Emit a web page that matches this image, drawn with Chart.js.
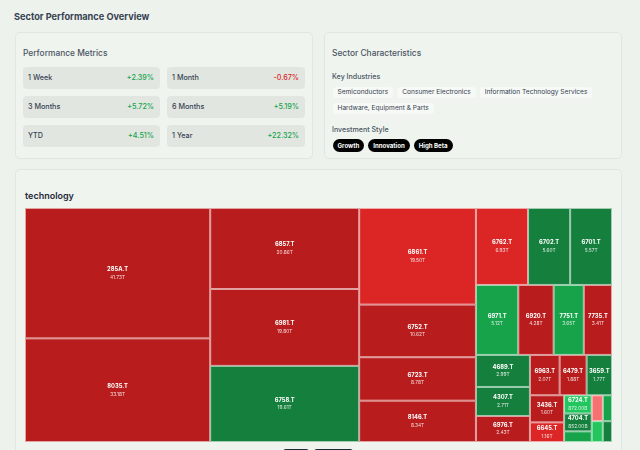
<!DOCTYPE html>
<html>
<head>
<meta charset="utf-8">
<script src="https://cdn.jsdelivr.net/npm/chart.js@4.4.1/dist/chart.umd.min.js"></script>
<style>
  body {
    margin: 0;
    width: 640px;
    height: 450px;
    overflow: hidden;
    position: relative;
    background: #edf2ed;
    font-family: Inter, "Noto Sans", sans-serif;
    color: #374151;
  }
  h1 {
    position: absolute;
    left: 14px;
    top: 10.5px;
    margin: 0;
    font-size: 9.2px;
    line-height: 12px;
    font-weight: 700;
    color: #374151;
  }
  .card {
    position: absolute;
    box-sizing: border-box;
    background: #eff4ef;
    border: 1px solid #e0e7e0;
    border-radius: 5px;
  }
  .card h2 {
    position: absolute;
    margin: 0;
    font-size: 8.4px;
    line-height: 10px;
    font-weight: 500;
    color: #4b5563;
  }
  #perf { left: 15px; top: 32px; width: 298px; height: 127px; }
  #chars { left: 324px; top: 32px; width: 298px; height: 127px; }
  #tree { left: 15px; top: 169px; width: 607px; height: 320px; }

  #metrics {
    position: absolute;
    left: 7px;
    top: 34px;
    width: 282px;
    display: grid;
    grid-template-columns: 137px 138px;
    column-gap: 7px;
    row-gap: 7.5px;
  }
  .metric {
    height: 21.5px;
    box-sizing: border-box;
    padding: 0 6px 0 5px;
    background: #e1e6e1;
    border-radius: 4px;
    display: flex;
    align-items: center;
    justify-content: space-between;
    font-size: 7.2px;
    font-weight: 500;
  }
  .metric .up { color: #16a34a; }
  .metric .down { color: #dc2626; }

  .sub {
    position: absolute;
    left: 7px;
    margin: 0;
    font-size: 7.1px;
    line-height: 9px;
    font-weight: 500;
    color: #4b5563;
  }
  .tags {
    position: absolute;
    left: 7.5px;
    display: flex;
    flex-wrap: wrap;
    gap: 4.5px 4px;
  }
  .chip {
    height: 11.5px;
    line-height: 11.5px;
    padding: 0 5px;
    background: #f6f9f6;
    border-radius: 3px;
    font-size: 6.6px;
    color: #374151;
  }
  .pill {
    height: 13px;
    line-height: 13px;
    padding: 0 5px;
    background: #000;
    border-radius: 7px;
    font-size: 6.1px;
    font-weight: 700;
    color: #fff;
  }
  #chartBox {
    position: absolute;
    left: 9px;
    top: 38px;
    width: 587px;
    height: 234px;
  }
  .btn {
    position: absolute;
    top: 279px;
    height: 20px;
    background: #1f2937;
    border-radius: 3px;
  }
</style>
</head>
<body>
<h1>Sector Performance Overview</h1>

<div class="card" id="perf">
  <h2 style="left:7px;top:14.7px">Performance Metrics</h2>
  <div id="metrics"></div>
</div>

<div class="card" id="chars">
  <h2 style="left:7px;top:15.3px">Sector Characteristics</h2>
  <p class="sub" style="top:38.5px">Key Industries</p>
  <div class="tags" id="industries" style="top:53.5px;width:272px"></div>
  <p class="sub" style="top:91.5px">Investment Style</p>
  <div class="tags" id="styles" style="top:106px"></div>
</div>

<div class="card" id="tree">
  <h2 style="left:9px;top:20.2px;font-size:9px;line-height:11px;color:#1f2937;font-weight:600">technology</h2>
  <div id="chartBox"><canvas id="treemap" width="587" height="234"></canvas></div>
  <div class="btn" style="left:267px;width:26px"></div>
  <div class="btn" style="left:298px;width:39px"></div>
</div>

<script>
// SECTOR OVERVIEW: metrics, tags and the market-cap treemap

const metricLabels = ["1 Week", "1 Month", "3 Months", "6 Months", "YTD", "1 Year"];
const metricValues = [2.39, -0.67, 5.72, 5.19, 4.51, 22.32];

const keyIndustries = [
  "Semiconductors",
  "Consumer Electronics",
  "Information Technology Services",
  "Hardware, Equipment & Parts",
];
const investmentStyles = ["Growth", "Innovation", "High Beta"];

// treemap cells, largest first (market cap in trillions)
const tickers = [
  "285A.T", "8035.T", "6857.T", "6981.T", "6758.T", "6861.T", "6752.T", "6723.T",
  "8146.T", "6762.T", "6702.T", "6701.T", "6971.T", "6920.T", "7751.T", "7735.T",
  "4689.T", "4307.T", "6976.T", "6963.T", "6479.T", "3659.T", "3436.T", "6645.T",
  "6724.T", "4704.T", "6526.T", "4716.T", "3923.T", "6448.T", "2327.T",
];
const marketCaps = [
  41.73, 33.18, 20.86, 19.8, 19.61, 19.5, 10.62, 8.78,
  8.34, 6.93, 5.6, 5.57, 5.12, 4.28, 3.65, 3.41,
  2.99, 2.71, 2.43, 2.07, 1.88, 1.77, 1.6, 1.16,
  0.872, 0.852, 0.51, 0.5, 0.41, 0.4, 0.33,
];
// estimated daily change (%), only used to pick the colour bucket
const dayChanges = [
  -2.6, -2.4, -3.1, -2.2, 2.3, -1.6, -2.5, -2.9,
  -2.1, -1.4, 2.6, 2.2, 1.4, -3.4, 1.2, -2.7,
  2.1, 2.4, -2.3, -2.8, -2.2, 2.5, -3.0, -1.3,
  0.6, 2.0, 1.3, -0.4, 1.1, 0.5, 2.2,
];

function changeColor(c) {
  if (c <= -2) return "#b91c1c";
  if (c <= -1) return "#dc2626";
  if (c < 0) return "#f87171";
  if (c < 1) return "#22c55e";
  if (c < 2) return "#16a34a";
  return "#15803d";
}

function formatCap(v) {
  if (v >= 1) return v.toFixed(2) + "T";
  return (v * 1000).toFixed(2) + "B";
}

function fillTags() {
  const grid = document.getElementById("metrics");
  metricLabels.forEach((label, i) => {
    const v = metricValues[i];
    const el = document.createElement("div");
    el.className = "metric";
    el.innerHTML =
      `<span>${label}</span><span class="${v >= 0 ? "up" : "down"}">` +
      `${v >= 0 ? "+" : ""}${v.toFixed(2)}%</span>`;
    grid.appendChild(el);
  });

  const ind = document.getElementById("industries");
  keyIndustries.forEach((t) => {
    const el = document.createElement("span");
    el.className = "chip";
    el.textContent = t;
    ind.appendChild(el);
  });

  const sty = document.getElementById("styles");
  investmentStyles.forEach((t) => {
    const el = document.createElement("span");
    el.className = "pill";
    el.textContent = t;
    sty.appendChild(el);
  });
}

// squarified layout (same rules as d3.treemapSquarify, golden ratio)
function squarify(values, x0, y0, x1, y1) {
  const ratio = (1 + Math.sqrt(5)) / 2;
  const cells = [];
  const n = values.length;
  let value = values.reduce((a, b) => a + b, 0);
  let i0 = 0;
  let i1 = 0;

  while (i0 < n) {
    const dx = x1 - x0;
    const dy = y1 - y0;
    let sum = values[i1++];
    let minV = sum;
    let maxV = sum;
    const alpha = Math.max(dy / dx, dx / dy) / (value * ratio);
    let beta = sum * sum * alpha;
    let minRatio = Math.max(maxV / beta, beta / minV);

    for (; i1 < n; ++i1) {
      const v = values[i1];
      sum += v;
      if (v < minV) minV = v;
      if (v > maxV) maxV = v;
      beta = sum * sum * alpha;
      const r = Math.max(maxV / beta, beta / minV);
      if (r > minRatio) {
        sum -= v;
        break;
      }
      minRatio = r;
    }

    if (dx < dy) {
      const h = (dy * sum) / value;
      let x = x0;
      for (let i = i0; i < i1; i++) {
        const w = (dx * values[i]) / sum;
        cells.push({ i, x0: x, y0: y0, x1: x + w, y1: y0 + h });
        x += w;
      }
      y0 += h;
    } else {
      const w = (dx * sum) / value;
      let y = y0;
      for (let i = i0; i < i1; i++) {
        const h = (dy * values[i]) / sum;
        cells.push({ i, x0: x0, y0: y, x1: x0 + w, y1: y + h });
        y += h;
      }
      x0 += w;
    }
    value -= sum;
    i0 = i1;
  }
  return cells;
}

const treemapPlugin = {
  id: "treemapCells",
  afterDatasetsDraw(chart) {
    const { ctx, chartArea, scales } = chart;
    const w = chartArea.right - chartArea.left;
    const h = chartArea.bottom - chartArea.top;
    // layout in pixel proportions, then back to the 0..1 scale values
    const cells = squarify(marketCaps, 0, 0, w, h);

    ctx.save();
    cells.forEach((c) => {
      const left = scales.x.getPixelForValue(c.x0 / w);
      const right = scales.x.getPixelForValue(c.x1 / w);
      const top = scales.y.getPixelForValue(c.y0 / h);
      const bottom = scales.y.getPixelForValue(c.y1 / h);
      const cw = right - left;
      const ch = bottom - top;

      ctx.fillStyle = changeColor(dayChanges[c.i]);
      ctx.fillRect(left, top, cw, ch);
      ctx.strokeStyle = "rgba(255,255,255,0.6)";
      ctx.lineWidth = 1;
      ctx.strokeRect(left + 0.5, top + 0.5, cw - 1, ch - 1);

      if (cw > 20 && ch > 15) {
        const cx = left + cw / 2;
        const cy = top + ch / 2;
        ctx.textAlign = "center";
        ctx.textBaseline = "middle";
        ctx.fillStyle = "#ffffff";
        ctx.font = "bold 5.8px Inter, sans-serif";
        ctx.fillText(tickers[c.i], cx, cy - 4);
        ctx.fillStyle = "rgba(255,255,255,0.85)";
        ctx.font = "4.8px Inter, sans-serif";
        ctx.fillText(formatCap(marketCaps[c.i]), cx, cy + 4);
      }
    });
    ctx.restore();
  },
};

function initTreemap() {
  const canvas = document.getElementById("treemap");
  new Chart(canvas, {
    type: "scatter",
    data: { datasets: [{ data: [] }] },
    options: {
      responsive: false,
      animation: false,
      layout: { padding: 0 },
      plugins: { legend: { display: false }, tooltip: { enabled: false } },
      scales: {
        x: { type: "linear", min: 0, max: 1, display: false },
        y: { type: "linear", min: 0, max: 1, reverse: true, display: false },
      },
    },
    plugins: [treemapPlugin],
  });
}

document.addEventListener("DOMContentLoaded", () => {
  fillTags();
  initTreemap();
});
</script>
</body>
</html>
